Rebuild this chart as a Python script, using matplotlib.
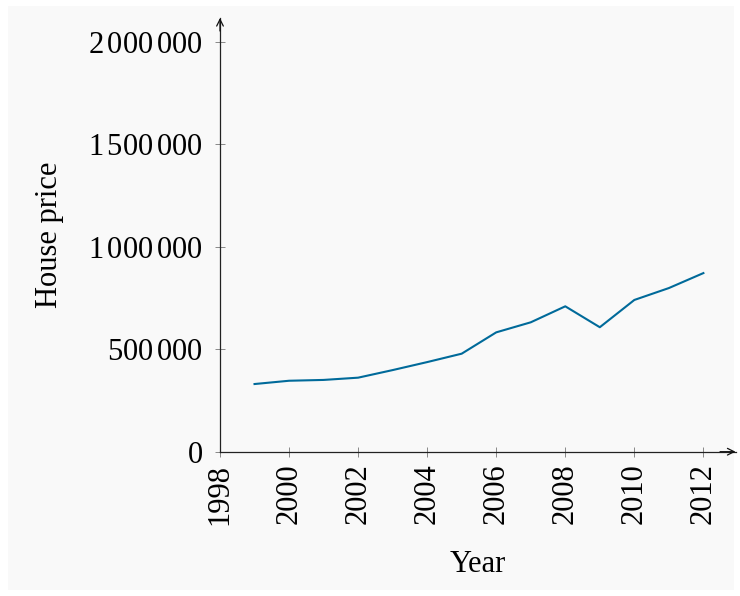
import matplotlib
matplotlib.use("Agg")
import matplotlib.pyplot as plt
from matplotlib.patches import Rectangle
from matplotlib.ticker import FuncFormatter

years = [1999, 2000, 2001, 2002, 2003, 2004, 2005, 2006, 2007, 2008, 2009, 2010, 2011, 2012]
prices = [330000, 346000, 350000, 361000, 398000, 437000, 478000, 582000, 631000, 709000, 607000, 740000, 798000, 871000]
xticks = [1998, 2000, 2002, 2004, 2006, 2008, 2010, 2012]
yticks = [0, 500000, 1000000, 1500000, 2000000]

plt.rcParams['font.family'] = ['Liberation Serif', 'DejaVu Serif']
plt.rcParams['font.size'] = 22
plt.rcParams['mathtext.fontset'] = 'custom'
plt.rcParams['mathtext.rm'] = 'Liberation Serif'
plt.rcParams['mathtext.it'] = 'Liberation Serif:italic'
plt.rcParams['mathtext.bf'] = 'Liberation Serif:bold'
plt.rcParams['mathtext.default'] = 'rm'

fig = plt.figure(figsize=(7.4, 5.96), dpi=100)
fig.patch.set_facecolor('white')
# light grey panel behind everything
fig.patches.append(Rectangle((8 / 740, 6 / 596), 726 / 740, 584 / 596,
                             transform=fig.transFigure, facecolor='#f9f9f9',
                             edgecolor='none', zorder=-10))

ax = fig.add_axes([220 / 740, 144.3 / 596, (735.5 - 220) / 740, 433.7 / 596])
ax.set_facecolor('none')

ax.plot(years, prices, color='#006a9a', lw=1.5)

ax.set_xlim(1998, 2012.93)
ax.set_ylim(0, 2115000)
ax.set_xticks(xticks)
ax.set_yticks(yticks)


def thin(v, pos):
    s = f"{int(v):,}"
    return '$' + s.replace(',', r'\,') + '$'


ax.yaxis.set_major_formatter(FuncFormatter(thin))
for lab in ax.get_xticklabels():
    lab.set_rotation(90)

for s in ['top', 'right']:
    ax.spines[s].set_visible(False)
for s in ['left', 'bottom']:
    ax.spines[s].set_color('#222222')
    ax.spines[s].set_linewidth(0.9)

ax.tick_params(axis='both', direction='inout', length=7, width=0.7, color='#888888')
ax.tick_params(axis='y', pad=9)
ax.tick_params(axis='x', pad=5)

# arrow heads
ax.annotate('', xy=(1, 0), xytext=(0.97, 0), xycoords=('axes fraction', 'data'),
            arrowprops=dict(arrowstyle='->', lw=0.9, color='#111111',
                            mutation_scale=12, shrinkA=0, shrinkB=0))
ax.annotate('', xy=(1998, 1), xytext=(1998, 0.97), xycoords=('data', 'axes fraction'),
            arrowprops=dict(arrowstyle='->', lw=0.9, color='#111111',
                            mutation_scale=12, shrinkA=0, shrinkB=0))

ax.set_xlabel('Year')
ax.set_ylabel('House price')
ax.xaxis.set_label_coords(0.5, -0.261)
ax.xaxis.label.set_va('center')
ax.yaxis.set_label_coords(-0.33, 0.5)
ax.yaxis.label.set_va('center')

fig.savefig('out.png', dpi=100, facecolor=fig.get_facecolor())
